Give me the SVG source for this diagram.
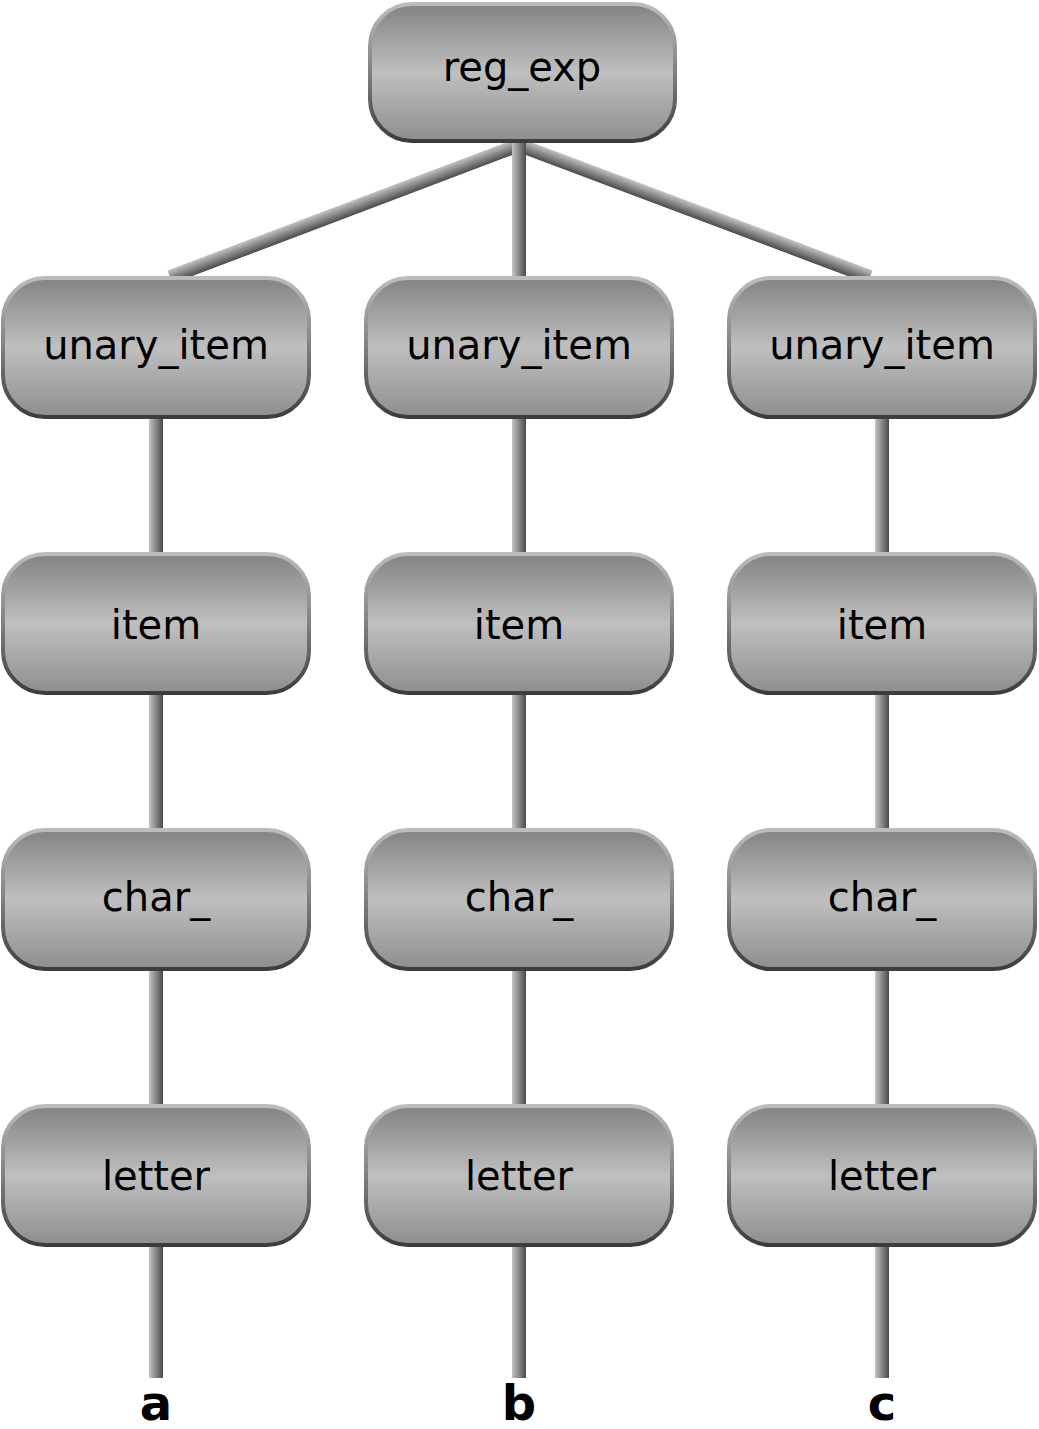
<svg xmlns="http://www.w3.org/2000/svg" width="1039" height="1429" viewBox="0 0 1039 1429">
<defs>
<linearGradient id="nodeFill" x1="0" y1="0" x2="0" y2="1">
<stop offset="0" stop-color="#838383"/>
<stop offset="0.5" stop-color="#bfbfbf"/>
<stop offset="1" stop-color="#8e8e8e"/>
</linearGradient>
<linearGradient id="nodeStroke" x1="0" y1="0" x2="0" y2="1">
<stop offset="0" stop-color="#bcbcbc"/>
<stop offset="0.5" stop-color="#808080"/>
<stop offset="1" stop-color="#3c3c3c"/>
</linearGradient>
<linearGradient id="vline" x1="0" y1="0" x2="1" y2="0">
<stop offset="0" stop-color="#c4c4c4"/>
<stop offset="1" stop-color="#4a4a4a"/>
</linearGradient>
<linearGradient id="dline" x1="0" y1="0" x2="0" y2="1">
<stop offset="0" stop-color="#c4c4c4"/>
<stop offset="1" stop-color="#4a4a4a"/>
</linearGradient>
</defs>
<style>
.node rect{fill:url(#nodeFill);stroke:url(#nodeStroke);stroke-width:4}
.node text{font-family:"DejaVu Sans",Verdana,sans-serif;font-size:40px;text-anchor:middle;fill:#000}
.v{fill:url(#vline)}
.d{fill:url(#dline)}
.leaf{font-family:"DejaVu Sans",Verdana,sans-serif;font-size:48px;font-weight:bold;text-anchor:middle;fill:#000}
</style>
<g id="connectors">
<rect class="d" x="0" y="-7" width="373" height="14" transform="translate(170,277) rotate(-20.72)"/>
<rect class="d" x="0" y="-7" width="375" height="14" transform="translate(519,145) rotate(20.6)"/>
<rect class="v" x="512" y="138" width="14" height="142"/>
<rect class="v" x="149" y="415" width="14" height="142"/>
<rect class="v" x="149" y="690" width="14" height="142"/>
<rect class="v" x="149" y="966" width="14" height="142"/>
<rect class="v" x="149" y="1242" width="14" height="136"/>
<rect class="v" x="512" y="415" width="14" height="142"/>
<rect class="v" x="512" y="690" width="14" height="142"/>
<rect class="v" x="512" y="966" width="14" height="142"/>
<rect class="v" x="512" y="1242" width="14" height="136"/>
<rect class="v" x="875" y="415" width="14" height="142"/>
<rect class="v" x="875" y="690" width="14" height="142"/>
<rect class="v" x="875" y="966" width="14" height="142"/>
<rect class="v" x="875" y="1242" width="14" height="136"/>
</g>
<g id="reg_exp" class="node"><rect x="370" y="4" width="305" height="137" rx="42"/><text x="522" y="81">reg_exp</text></g>
<g id="unary_item_1" class="node"><rect x="3" y="278" width="306" height="139" rx="42"/><text x="156" y="359">unary_item</text></g>
<g id="unary_item_2" class="node"><rect x="366" y="278" width="306" height="139" rx="42"/><text x="519" y="359">unary_item</text></g>
<g id="unary_item_3" class="node"><rect x="729" y="278" width="306" height="139" rx="42"/><text x="882" y="359">unary_item</text></g>
<g id="item_1" class="node"><rect x="3" y="554" width="306" height="139" rx="42"/><text x="156" y="639">item</text></g>
<g id="item_2" class="node"><rect x="366" y="554" width="306" height="139" rx="42"/><text x="519" y="639">item</text></g>
<g id="item_3" class="node"><rect x="729" y="554" width="306" height="139" rx="42"/><text x="882" y="639">item</text></g>
<g id="char_1" class="node"><rect x="3" y="830" width="306" height="139" rx="42"/><text x="156" y="911">char_</text></g>
<g id="char_2" class="node"><rect x="366" y="830" width="306" height="139" rx="42"/><text x="519" y="911">char_</text></g>
<g id="char_3" class="node"><rect x="729" y="830" width="306" height="139" rx="42"/><text x="882" y="911">char_</text></g>
<g id="letter_1" class="node"><rect x="3" y="1106" width="306" height="139" rx="42"/><text x="156" y="1190">letter</text></g>
<g id="letter_2" class="node"><rect x="366" y="1106" width="306" height="139" rx="42"/><text x="519" y="1190">letter</text></g>
<g id="letter_3" class="node"><rect x="729" y="1106" width="306" height="139" rx="42"/><text x="882" y="1190">letter</text></g>
<g id="leaves">
<text class="leaf" x="156" y="1420">a</text>
<text class="leaf" x="519" y="1420">b</text>
<text class="leaf" x="882" y="1420">c</text>
</g>
</svg>
